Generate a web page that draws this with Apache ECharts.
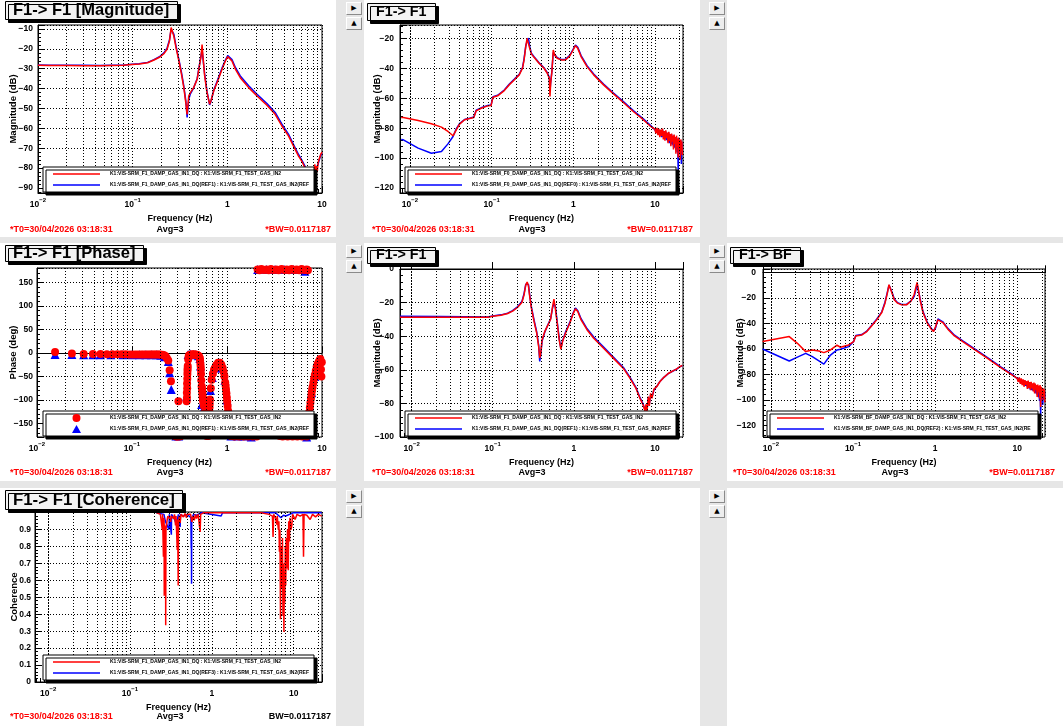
<!DOCTYPE html>
<html><head><meta charset="utf-8">
<script src="https://cdn.jsdelivr.net/npm/echarts@6/dist/echarts.min.js"></script>
<style>
html,body{margin:0;padding:0;}
body{width:1063px;height:726px;background:#e6e6e6;position:relative;overflow:hidden;}
.panel{position:absolute;background:#fff;}
.btn{position:absolute;width:16px;height:13px;background:#ededed;box-sizing:border-box;border:1px solid;border-color:#fff #8a8a8a #8a8a8a #fff;font:7px 'DejaVu Sans',sans-serif;line-height:11px;text-align:center;color:#000;}
</style></head>
<body>
<script>
// ---------------- DATA ----------------
// Panel 1: F1-> F1 [Magnitude]
const m1F = [0.01,0.013,0.02,0.03,0.045,0.06,0.08,0.091,0.117,0.144,
 0.168,0.194,0.214,0.231,0.245,0.255,0.263,0.272,0.287,0.308,
 0.328,0.347,0.364,0.376,0.391,0.407,0.441,0.48,0.507,0.528,
 0.541,0.554,0.576,0.61,0.65,0.67,0.718,0.791,0.879,0.954,
 1.01,1.06,1.12,1.22,1.37,1.68,2.06,2.62,3.2,3.77,
 4.42,4.99,5.63,6.1,6.6,7.0,7.5,7.9,8.1,8.25,
 8.4,8.55,8.7,8.9,9.1,9.4,9.7,10];
const m1Red = [-28.3,-28.4,-28.4,-28.5,-28.5,-28.4,-28.3,-28.0,-27.6,-27.0,
 -25.6,-24.1,-22.4,-20.2,-16.0,-9.3,-8.3,-13.5,-19.4,-26.1,
 -32.8,-39.5,-47.0,-53.0,-43.7,-42.0,-39.5,-35.3,-28.6,-23.6,
 -17.8,-24.4,-33.6,-42.0,-47.8,-46.2,-41.2,-36.2,-30.3,-26.1,
 -23.9,-23.6,-26.1,-30.3,-34.5,-39.5,-43.7,-48.4,-52.9,-58.8,
 -63.8,-68.8,-73.8,-76.4,-79.7,-84,-88,-85,-80,-86,
 -78,-84,-79,-82,-77,-75,-73,-72];
const m1Blue = [-28.1,-28.2,-28.3,-28.3,-28.4,-28.3,-28.2,-27.9,-27.5,-26.8,
 -25.4,-23.8,-22.0,-19.6,-15.4,-10.2,-9.5,-12.6,-18.6,-25.4,
 -32.0,-38.8,-46.0,-54.5,-45.5,-42.6,-39.6,-35.0,-28.2,-23.2,
 -20.5,-21.5,-32.6,-41.4,-48.2,-46.6,-40.8,-35.6,-29.6,-25.6,
 -23.4,-23.1,-25.4,-29.5,-33.6,-38.6,-42.8,-47.5,-52.0,-57.9,
 -62.9,-68.0,-73.0,-75.8,-79.0,-83,-87,-86,-81,-84,
 -80,-83,-80,-81,-78,-75.5,-73.5,-72.5];
const m1YTicks = [-90,-80,-70,-60,-50,-40,-30,-20,-10];

// Panel 2: F1-> F1 (F0 channel)
const m2F = [0.0078,0.0083,0.0126,0.0183,0.0243,0.0292,0.0337,0.0369,0.0405,0.0467,
 0.0537,0.0606,0.0647,0.0745,0.0897,0.0985,0.104,0.1186,0.143,0.164,
 0.189,0.218,0.239,0.25,0.262,0.272,0.283,0.293,0.307,0.331,
 0.381,0.438,0.481,0.509,0.519,0.529,0.548,0.569,0.591,0.637,
 0.712,0.803,0.907,0.996,1.064,1.136,1.247,1.475,1.78,2.35,
 3.11,4.11,5.44,7.21,8.68];
const m2Red = [-72.8,-72.9,-74.9,-77.1,-79.3,-82.2,-85.1,-81.1,-77.3,-74.4,
 -73.6,-72.9,-68.4,-66.7,-65.1,-64.9,-59.3,-58.4,-54.9,-51.1,
 -47.8,-44.4,-40,-34.4,-25.6,-20,-21.1,-26.7,-30.4,-32.7,
 -36.7,-40,-43.3,-46.7,-58.9,-50,-42.2,-27.8,-31.1,-33.3,
 -34.4,-34.4,-31.8,-27.8,-24.9,-26.7,-32.2,-38.9,-44.4,-51.1,
 -57.1,-62.9,-68.9,-74.4,-78.4];
const m2Blue = [-87.5,-87.8,-93.3,-96.8,-95.6,-90.5,-85.6,-80.5,-77,-74.2,
 -73.4,-72.6,-68,-66.4,-64.8,-64.5,-59,-58,-54.5,-50.7,
 -47.4,-44,-39.5,-33.5,-25,-22,-19.8,-25.5,-30,-32.3,
 -36.3,-39.6,-42.9,-46.2,-55,-49.5,-41.8,-29.5,-29.8,-33,
 -34.1,-34,-31.3,-27.3,-24.5,-26,-31.5,-38.3,-43.8,-50.5,
 -56.5,-62.3,-68.3,-73.8,-77.8];
// high-frequency noisy tail (shared frequencies)
const tailF = [10.0,10.3,10.6,10.9,11.2,11.5,11.8,12.1,12.4,12.7,
 13.0,13.3,13.6,13.9,14.2,14.5,14.8,15.1,15.4,15.7,
 16.0,16.3,16.6,16.9,17.2,17.5,17.8,18.1,18.4,18.7,
 19.0,19.3,19.6,19.9,20.2,20.5,20.8,21.1,21.4,21.7];
const m2RedTail = [-80.7,-83.5,-79.8,-84.6,-80.5,-86,-81,-85.2,-80.2,-87.5,
 -82,-88.4,-81.5,-86.6,-83,-90,-82.4,-88.5,-84,-92,
 -83.6,-89,-85,-94.2,-84.3,-90.5,-86,-97,-85,-92.6,
 -87,-99.5,-86.2,-93,-88,-101,-87.5,-95,-89,-98];
const m2BlueTail = [-81,-82.5,-80.5,-83.8,-81.2,-84.5,-81.8,-86,-81,-85.8,
 -82.6,-87,-82.2,-88,-83.5,-89,-83,-90,-84.5,-90.5,
 -84,-91,-85.5,-92,-85,-93,-86.5,-94,-86,-96,
 -87,-110,-87,-95,-88.5,-97,-88,-104,-89.5,-96];
const m2YTicks = [-120,-100,-80,-60,-40,-20];

// Panel 4: F1-> F1 (row 2)
const m4F = [0.0072,0.0233,0.0868,0.1,0.1265,0.153,0.176,0.202,0.229,0.244,
 0.256,0.266,0.276,0.286,0.30,0.324,0.349,0.369,0.38,0.391,
 0.406,0.438,0.481,0.518,0.548,0.569,0.591,0.625,0.661,0.693,
 0.727,0.79,0.893,0.981,1.048,1.12,1.23,1.46,1.76,2.33,
 3.09,4.09,4.94,5.85,6.55,7.19,7.55,7.76,7.98,8.28,
 8.53,8.85,9.19,9.72,10.5,11.5,12.9,14.6,16.7,18.4,
 20.2,21.8];
const m4Red = [-28.7,-28.7,-28.7,-28.1,-27.5,-26.5,-25.1,-22.9,-19.9,-15.3,
 -9.4,-7.8,-10,-16.3,-23.3,-31.3,-38.2,-46.2,-53,-50.2,
 -42.2,-37.3,-33.3,-29.9,-22.3,-17.9,-23.3,-32.3,-42.2,-47.8,
 -43.2,-38.2,-32.3,-26.7,-23.7,-25.3,-30.3,-36.3,-41.2,-47.2,
 -53.2,-59.2,-65.1,-71.1,-77.1,-81.1,-84.5,-80.5,-85,-76,
 -81.5,-74,-77,-71.5,-70.1,-67.1,-64.5,-62.2,-60.6,-59.6,
 -58.2,-57.4];
const m4Blue = [-28.1,-28.2,-28.6,-28.0,-27.3,-26.3,-24.8,-22.5,-19.4,-14.5,
 -9.0,-8.8,-9.2,-15.5,-22.5,-30.5,-37.5,-45.5,-55,-51,
 -43,-37.6,-33,-29.6,-23,-20.5,-21.8,-31.6,-41.4,-47.2,
 -42.8,-37.6,-31.8,-26.2,-23.2,-24.8,-29.6,-35.6,-40.5,-46.5,
 -52.5,-58.6,-64.5,-70.6,-76.6,-80.6,-84,-81.5,-84,-77,
 -80.5,-75,-76.5,-72,-70,-67,-64.5,-62.3,-60.7,-59.7,
 -58.3,-57.5];
const m4YTicks = [-100,-80,-60,-40,-20,0];

// Panel 5: F1-> BF
const m5F = [0.0079,0.0081,0.0167,0.021,0.0265,0.0319,0.0384,0.0441,0.0531,0.0638,
 0.0701,0.0884,0.1016,0.108,0.128,0.147,0.169,0.194,0.224,0.245,
 0.262,0.274,0.284,0.298,0.318,0.349,0.39,0.448,0.505,0.555,
 0.586,0.603,0.62,0.655,0.712,0.804,0.898,0.958,1.014,1.082,
 1.143,1.242,1.428,1.72,2.17,3.0,4.35,6.3,8.71];
const m5Red = [-54.2,-54.4,-50.4,-55.7,-62.2,-60.9,-61.7,-63,-60.9,-57.2,
 -58.8,-57,-54.4,-49.9,-49.1,-46.5,-42,-37.3,-31.5,-24.2,
 -16.3,-9.7,-10.5,-16.3,-21.5,-24.2,-25.5,-25.5,-22.8,-17.6,
 -11,-7.9,-12.3,-21.5,-31.5,-39.9,-44.6,-46.5,-42.5,-37.3,
 -36.8,-39.4,-44.6,-49.9,-54.4,-60.4,-67.5,-74.8,-80.6];
const m5Blue = [-60.2,-60.4,-69.6,-66.5,-63.6,-66.2,-69.5,-72,-64.9,-60.9,
 -60.4,-58.3,-54.2,-49.6,-48.8,-46.2,-41.6,-36.8,-31,-23.5,
 -15.5,-10,-9.8,-15.5,-21,-23.8,-25.2,-25.2,-22.5,-19,
 -13,-9.5,-10.5,-20.5,-30.8,-39.3,-44,-46,-43.5,-36.5,
 -36,-38.8,-44,-49.3,-53.8,-59.8,-66.9,-74.2,-80];
const m5RedTail = [-83.2,-86,-82.5,-87.5,-83.2,-88.6,-84,-89.8,-84.6,-88.2,
 -85.5,-91.5,-85,-90.6,-86.2,-92.4,-85.9,-91.1,-87,-93.5,
 -86.5,-95.1,-87.2,-92,-88.5,-97.7,-88,-94,-89,-99,
 -88.5,-105.6,-89.8,-96.4,-90.5,-100,-91,-97,-92,-102];
const m5BlueTail = [-83.5,-85,-83,-86.5,-84,-87.5,-84.5,-88.5,-85,-89,
 -85.8,-90,-86,-91,-86.5,-92,-87,-92.5,-87.5,-93,
 -88,-94,-88.5,-95,-89,-96,-89.5,-98,-90,-101,
 -90.5,-113,-91,-99,-91.5,-104,-92,-100,-93,-98];
const m5YTicks = [-120,-100,-80,-60,-40,-20,0];

// Phase panel (scatter)
const phRedF = [0.0155,0.0233,0.031,0.0388,0.0466,0.0544,0.0622,0.07,0.0778,0.0856,
 0.0934,0.101,0.109,0.117,0.125,0.132,0.14,0.148,0.156,0.163,
 0.171,0.179,0.187,0.195,0.202,0.21,0.218,0.226,0.233,0.241,
 0.249,0.257,0.284,0.292,0.3,0.308,0.316,0.324,0.332,0.308,
 0.376,0.378,0.38,0.383,0.386,0.39,0.395,0.40,0.41,0.42,
 0.43,0.44,0.45,0.46,0.47,0.48,0.49,0.50,0.51,0.518,
 0.531,0.541,0.548,0.554,0.563,0.572,0.586,0.6,0.611,0.636,
 0.648,0.662,0.675,0.689,0.71,0.73,0.746,0.77,0.806,0.84,
 0.872,0.9,0.92,0.94,0.958,0.976,0.996,1.016,1.036,1.056,
 1.076,1.098,1.14,1.2,1.27,1.34,1.42,1.5,1.58,1.67,
 1.77,1.87,1.97,2.05,2.1,2.2,2.3,2.45,2.6,2.75,
 2.9,3.1,3.3,3.5,3.75,4.0,4.25,4.5,4.8,5.1,
 5.4,5.75,6.1,6.5,6.9,7.1,3.6,3.85,4.1,4.35,
 4.6,4.9,5.2,5.5,5.85,6.2,6.55,6.9,7.05,7.15,
 7.25,7.35,7.45,7.55,7.65,7.75,7.85,7.95,8.1,8.25,
 8.4,8.6,8.8,9.0,9.2,9.4,9.6,9.75,9.85,9.95,
 0.639,0.642,0.645,0.652,0.655,0.658,0.967,0.986,1.006,1.026,
 1.046,1.066,0.533,0.536,0.544,0.551,0.557,0.56,0.567,0.579,
 0.521,0.525,0.528,0.593,0.605,0.379,0.381,0.382,0.384,0.385];
const phRed = [2,-1,-2,-2,-2,-2.5,-2.5,-2.5,-2.5,-2.5,
 -3,-3,-3,-3,-3,-3,-3,-3,-3,-3,
 -3,-3.5,-3.5,-3.5,-4,-4,-5,-7,-11,-16,
 -37,-60,-177,-178,-178,-177,-178,-177,-176,-103,
 -103,-85,-65,-45,-28,-14,-7,-5,-4,-3,
 -3,-3,-3,-3,-4,-4,-5,-6,-8,-11,
 -35,-71,-80,-92,-103,-113,-142,-165,-177,-177,
 -135,-99,-75,-57,-44,-36,-32,-26,-21,-21,
 -25,-32,-40,-50,-63,-78,-95,-113,-134,-156,
 -168,-177,-177,-178,-177,-178,-177,-178,-177,-178,
 -177,-178,-177,-178,178,176,179,177,178,176,
 179,177,178,176,179,177,178,176,179,177,
 178,176,179,177,178,176,-177,-178,-177,-178,
 -177,-178,-177,-178,-177,-178,-177,-178,-165,-148,
 -137,-126,-116,-106,-97,-88,-80,-73,-64,-55,
 -47,-38,-29,-24,-20,-16,-13,-35,-50,-20,
 -165,-153,-143,-125,-116,-108,-70,-86,-104,-123,
 -145,-162,-45,-58,-75,-86,-97,-100,-108,-128,
 -16,-23,-29,-150,-172,-95,-75,-55,-38,-33];
const phBlueF = [0.0155,0.0233,0.031,0.0388,0.0466,0.06,0.08,0.1,0.12,0.14,
 0.16,0.18,0.2,0.22,0.241,0.249,0.259,0.29,0.31,0.376,
 0.39,0.41,0.44,0.47,0.5,0.518,0.525,0.541,0.563,0.6,
 0.645,0.67,0.7,0.75,0.8,0.85,0.9,0.95,1.0,1.05,
 1.1,1.3,1.5,1.8,2.1,2.6,3.2,4,5,6,
 6.6,6.9,7.3,7.8,8.4,9,9.6];
const phBlue = [-3,-3,-4,-4,-4,-4,-4,-4,-4,-4,
 -4,-4,-5,-8,-18,-42,-78,-177,-177,-92,
 -3,-2,-3,-4,-6,-12,-28,-110,-120,-170,
 -140,-80,-52,-32,-22,-22,-32,-58,-100,-145,
 -177,-177,-177,-179,178,178,178,178,178,178,
 174,-179,-120,-85,-50,-25,-15];
const phYTicks = [-150,-100,-50,0,50,100,150];

// Coherence panel
const cohF = [0.21,0.235,0.245,0.248,0.25,0.254,0.256,0.258,0.261,0.262,
 0.264,0.268,0.272,0.273,0.275,0.28,0.285,0.29,0.3,0.305,
 0.31,0.314,0.318,0.33,0.34,0.35,0.36,0.365,0.372,0.378,
 0.382,0.388,0.392,0.4,0.41,0.42,0.45,0.47,0.49,0.5,
 0.55,0.57,0.59,0.61,0.63,0.65,0.68,0.71,0.72,0.73,
 0.8,1.0,1.5,2.5,4.0,5.0,5.5,5.6,5.7,6.0,
 6.2,6.3,6.5,6.6,6.7,6.8,6.9,7.0,7.1,7.2,
 7.3,7.4,7.5,7.6,7.7,7.8,7.9,8.0,8.1,8.2,
 8.3,8.4,8.6,8.7,8.9,9.0,9.3,9.5,9.7,10.4,
 11,12,13.0,13.2,13.4,14.5,15.9,17,18.5,20,
 22];
const cohRed = [1.0,0.99,0.995,0.9,0.99,0.98,0.74,0.97,0.95,0.51,
 0.93,0.9,0.92,0.335,0.9,0.905,0.96,0.98,0.975,0.99,
 0.96,0.945,0.98,0.99,0.965,0.99,0.925,0.98,0.97,0.78,
 0.96,0.57,0.95,0.98,0.94,0.99,0.975,0.995,0.97,0.99,
 0.99,0.945,0.98,0.955,0.99,0.965,0.99,0.99,0.886,0.99,
 1.0,1.0,1.0,1.0,1.0,0.99,0.98,0.856,0.99,0.97,
 0.93,0.98,0.9,0.95,0.77,0.9,0.37,0.8,0.6,0.55,
 0.85,0.39,0.7,0.295,0.65,0.47,0.8,0.57,0.85,0.7,
 0.67,0.9,0.66,0.95,0.83,0.97,0.9,0.925,0.99,0.96,
 0.99,0.98,0.99,0.74,0.99,0.985,0.96,0.99,0.975,0.99,
 0.98];
const cohBlueF = [0.21,0.26,0.27,0.3,0.302,0.32,0.322,0.35,0.37,0.39,
 0.41,0.413,0.45,0.5,0.555,0.56,0.562,0.565,0.568,0.6,
 0.65,0.68,0.75,1.3,1.35,6,7,7.5,8,10,22];
const cohBlue = [1,0.99,0.95,0.9,0.99,0.87,0.99,0.96,0.93,0.99,
 0.915,0.99,0.98,0.99,0.97,0.79,0.95,0.58,0.97,0.99,
 0.985,0.975,1,0.98,1,1,0.97,0.985,0.98,1,1];
const cohYTicks = [0,0.1,0.2,0.3,0.4,0.5,0.6,0.7,0.8,0.9];

// Texts
const NAME_F1 = 'K1:VIS-SRM_F1_DAMP_GAS_IN1_DQ : K1:VIS-SRM_F1_TEST_GAS_IN2';
const NAME_F1_REF1 = 'K1:VIS-SRM_F1_DAMP_GAS_IN1_DQ(REF1) : K1:VIS-SRM_F1_TEST_GAS_IN2(REF1)';
const NAME_F0 = 'K1:VIS-SRM_F0_DAMP_GAS_IN1_DQ : K1:VIS-SRM_F1_TEST_GAS_IN2';
const NAME_F0_REF0 = 'K1:VIS-SRM_F0_DAMP_GAS_IN1_DQ(REF0) : K1:VIS-SRM_F1_TEST_GAS_IN2(REF0)';
const NAME_BF = 'K1:VIS-SRM_BF_DAMP_GAS_IN1_DQ : K1:VIS-SRM_F1_TEST_GAS_IN2';
const NAME_BF_REF2 = 'K1:VIS-SRM_BF_DAMP_GAS_IN1_DQ(REF2) : K1:VIS-SRM_F1_TEST_GAS_IN2(REF2)';
const NAME_F1_REF3 = 'K1:VIS-SRM_F1_DAMP_GAS_IN1_DQ(REF3) : K1:VIS-SRM_F1_TEST_GAS_IN2(REF3)';
const T0_TEXT = '*T0=30/04/2026 03:18:31';
const AVG_TEXT = 'Avg=3';
const BW_TEXT = '*BW=0.0117187';
const BW_TEXT_PLAIN = 'BW=0.0117187';

// ---------------- RENDERING ----------------
const FONT = "'Liberation Sans', Arial, Helvetica, sans-serif";
const RED = '#ff0000', BLUE = '#0000ff';
const LINE_ICON = 'path://M0,0L100,0L100,3L0,3Z';
const CIRCLE_ICON = 'path://M0,0L0,0ZM47,8L47,8ZM19.5,4A4,4,0,1,1,27.5,4A4,4,0,1,1,19.5,4Z';
const TRI_ICON = 'path://M0,0L0,0ZM47,8L47,8ZM23.5,0L28,8L19,8Z';

function zip(f, v) { return f.map((x, i) => [x, v[i]]); }

function lineSeries(name, f, v, color) {
  return {type:'line', name, data: zip(f, v), symbol:'none', showSymbol:false,
    lineStyle:{color, width:1.5}, itemStyle:{color}, silent:true, animation:false, z:3};
}
function scatterSeries(name, f, v, color, symbol, size) {
  return {type:'scatter', name, data: zip(f, v), symbol, symbolSize:size,
    itemStyle:{color, opacity:1}, silent:true, animation:false, z:3};
}
function decadeMultiples(xmin, xmax) {
  const out = [];
  for (let e = -3; e <= 2; e++) for (let m = 2; m <= 9; m++) {
    const v = m * Math.pow(10, e);
    if (v > xmin && v < xmax) out.push(v);
  }
  return out;
}
function minorGrid(xmin, xmax) {
  return {type:'line', name:'__grid', data:[], silent:true, z:1,
    markLine:{silent:true, animation:false, symbol:['none','none'], label:{show:false},
      lineStyle:{color:'#000', type:[1,2], width:1}, emphasis:{disabled:true},
      data: decadeMultiples(xmin, xmax).map(v => ({xAxis:v}))}};
}
function logFmt(v) {
  const l = Math.log10(v), e = Math.round(l);
  if (Math.abs(l - e) > 1e-6) return '';
  if (e < 0) return '{b|10}{s|\u2212' + (-e) + '}';
  if (e === 0) return '{b|1}';
  return '{b|' + Math.pow(10, e) + '}';
}
function yFmt(v) {
  const r = Math.round(v * 1000) / 1000;
  return r < 0 ? '\u2212' + (-r) : String(r);
}

function build(el, c) {
  const chart = echarts.init(el, null, {renderer:'canvas', width:c.w, height:c.h});
  const footFont = 'bold 9px ' + FONT;
  const baseGraphic = [
    {type:'text', x:c.fx1, y:c.fy, silent:true, style:{text:T0_TEXT, align:'left', verticalAlign:'middle', fill:RED, font:footFont}},
    {type:'text', x:c.fx2, y:c.fy, silent:true, style:{text:AVG_TEXT, align:'center', verticalAlign:'middle', fill:'#000', font:footFont}},
    {type:'text', x:c.fx3, y:c.fy, silent:true, style:{text:c.bw, align:'right', verticalAlign:'middle', fill:c.bwColor, font:footFont}}
  ];
  const opt = {
    animation:false,
    backgroundColor:'#ffffff',
    textStyle:{fontFamily:FONT},
    title:{text:c.title, left:c.tl, top:c.tt, padding:[0,c.tpad,0,c.tpad],
      backgroundColor:'#f3f3f3', borderColor:'#000', borderWidth:1,
      shadowColor:'#000', shadowOffsetX:3, shadowOffsetY:3, shadowBlur:0,
      textStyle:{fontFamily:FONT, fontWeight:'bold', fontSize:c.tfs, color:'#000', lineHeight:c.tlh}},
    legend:{orient:'vertical', left:c.ll, top:c.lt, selectedMode:false, z:10,
      data:c.legend, itemWidth:47, itemHeight:8, itemGap:3, padding:[3,4,3,10],
      symbolKeepAspect:true,
      backgroundColor:'#ffffff', borderColor:'#000', borderWidth:1,
      shadowColor:'#000', shadowOffsetX:3, shadowOffsetY:3, shadowBlur:0,
      textStyle:{fontSize:5, fontWeight:'bold', color:'#000', fontFamily:FONT, lineHeight:8,
        width:200, overflow:'truncate', ellipsis:'', padding:[0,0,0,5]}},
    grid:{left:c.gl, top:c.gt, width:c.gw, height:c.gh, show:true,
      borderColor:'#000', borderWidth:1, backgroundColor:'rgba(0,0,0,0)'},
    xAxis:{type:'log', logBase:10, min:c.xmin, max:c.xmax,
      name:'Frequency (Hz)', nameLocation:'middle', nameGap:c.xng,
      nameTextStyle:{fontSize:9, fontWeight:'bold', color:'#000', fontFamily:FONT},
      axisLine:{show:true, lineStyle:{color:'#000', width:1}},
      axisTick:{show:true, inside:true, length:7, lineStyle:{color:'#000'}},
      minorTick:{show:false},
      axisLabel:{margin:4, formatter:logFmt, showMinLabel:true, showMaxLabel:true, hideOverlap:false,
        rich:{b:{fontSize:8.5, fontWeight:'bold', color:'#000', fontFamily:FONT, lineHeight:12, verticalAlign:'bottom'},
              s:{fontSize:6, fontWeight:'bold', color:'#000', fontFamily:FONT, lineHeight:7, verticalAlign:'top'}}},
      splitLine:{show:true, lineStyle:{color:'#000', type:[1,2], width:1}}},
    yAxis:{type:'value', min:c.ymin, max:c.ymax, interval:c.yint, splitNumber:c.ysplit,
      name:c.yname, nameLocation:'middle', nameGap:c.yng,
      nameTextStyle:{fontSize:9.5, fontWeight:'bold', color:'#000', fontFamily:FONT},
      axisLine:{show:true, lineStyle:{color:'#000', width:1}},
      axisTick:{show:true, inside:true, length:7, lineStyle:{color:'#000'}},
      minorTick:{show:true, splitNumber:5, length:3, lineStyle:{color:'#000'}},
      axisLabel:{show:false},
      splitLine:{show:true, lineStyle:{color:'#000', type:[1,2], width:1}}},
    series:[minorGrid(c.xmin, c.xmax)].concat(c.series),
    graphic: baseGraphic
  };
  chart.setOption(opt);

  // y tick labels and minor x ticks placed through the chart's own axis scales
  const extra = [];
  const lblFont = 'bold 8.5px ' + FONT;
  c.yticks.forEach(v => {
    const y = chart.convertToPixel({yAxisIndex:0}, v);
    extra.push({type:'text', x:c.gl - 4, y, silent:true,
      style:{text:yFmt(v), align:'right', verticalAlign:'middle', fill:'#000', font:lblFont}});
  });
  const yb = c.gt + c.gh;
  decadeMultiples(c.xmin, c.xmax).forEach(v => {
    const x = Math.round(chart.convertToPixel({xAxisIndex:0}, v)) + 0.5;
    extra.push({type:'line', silent:true, shape:{x1:x, y1:yb, x2:x, y2:yb - 4},
      style:{stroke:'#000', lineWidth:1}});
  });
  chart.setOption({graphic: baseGraphic.concat(extra)});
}

function div(left, top, w, h) {
  const d = document.createElement('div');
  d.className = 'panel';
  d.style.cssText = `left:${left}px;top:${top}px;width:${w}px;height:${h}px;`;
  document.body.appendChild(d);
  return d;
}
function btn(left, top, glyph) {
  const b = document.createElement('div');
  b.className = 'btn';
  b.style.left = left + 'px'; b.style.top = top + 'px';
  b.textContent = glyph;
  document.body.appendChild(b);
}

const COLS = [0, 364, 727];
const ROWS = [0, 243, 488];
const HS = [237, 238, 238];
const W = 336;

// empty panels
div(COLS[2], ROWS[0], W, HS[0]);
div(COLS[1], ROWS[2], W, HS[2]);
div(COLS[2], ROWS[2], W, HS[2]);
// buttons
[346, 709].forEach(x => ROWS.forEach(y => { btn(x, y + 2, '\u25B6'); btn(x, y + 17, '\u25B2'); }));

const lineLegend = (a, b) => [{name:a, icon:LINE_ICON}, {name:b, icon:LINE_ICON}];

// Panel 1
build(div(COLS[0], ROWS[0], W, HS[0]), {w:W, h:HS[0],
  title:'F1-> F1 [Magnitude]', tl:5, tt:1, tpad:8, tfs:16.5, tlh:19,
  ll:43, lt:167, legend:lineLegend(NAME_F1, NAME_F1_REF1),
  gl:37, gt:25, gw:285, gh:168, xmin:0.01, xmax:10, xng:17,
  ymin:-92.5, ymax:-8, ysplit:8, yticks:m1YTicks, yname:'Magnitude (dB)', yng:20,
  fx1:10, fx2:170, fx3:331, fy:230, bw:BW_TEXT, bwColor:RED,
  series:[lineSeries(NAME_F1_REF1, m1F, m1Blue, BLUE), lineSeries(NAME_F1, m1F, m1Red, RED)]});

// Panel 2
build(div(COLS[1], ROWS[0], W, HS[0]), {w:W, h:HS[0],
  title:'F1-> F1', tl:3, tt:3, tpad:9, tfs:14.3, tlh:18,
  ll:41, lt:167, legend:lineLegend(NAME_F0, NAME_F0_REF0),
  gl:34, gt:25, gw:285, gh:168, xmin:0.00755, xmax:22.1, xng:17,
  ymin:-123.3, ymax:-11.1, ysplit:5, yticks:m2YTicks, yname:'Magnitude (dB)', yng:18,
  fx1:8, fx2:168, fx3:329, fy:230, bw:BW_TEXT, bwColor:RED,
  series:[lineSeries(NAME_F0_REF0, m2F.concat(tailF), m2Blue.concat(m2BlueTail), BLUE),
          lineSeries(NAME_F0, m2F.concat(tailF), m2Red.concat(m2RedTail), RED)]});

// Phase panel
build(div(COLS[0], ROWS[1], W, HS[1]), {w:W, h:HS[1],
  title:'F1-> F1 [Phase]', tl:5, tt:2, tpad:8, tfs:16.5, tlh:17,
  ll:43, lt:168, legend:[{name:NAME_F1, icon:CIRCLE_ICON}, {name:NAME_F1_REF1, icon:TRI_ICON}],
  gl:37, gt:25, gw:285, gh:169, xmin:0.01, xmax:10, xng:17,
  ymin:-179, ymax:181, ysplit:7, yticks:phYTicks, yname:'Phase (deg)', yng:19,
  fx1:10, fx2:170, fx3:331, fy:230, bw:BW_TEXT, bwColor:RED,
  series:[scatterSeries(NAME_F1_REF1, phBlueF, phBlue, BLUE, 'triangle', 9),
          scatterSeries(NAME_F1, phRedF, phRed, RED, 'circle', 8)]});

// Panel 4
build(div(COLS[1], ROWS[1], W, HS[1]), {w:W, h:HS[1],
  title:'F1-> F1', tl:3, tt:4, tpad:9, tfs:14.3, tlh:17,
  ll:41, lt:168, legend:lineLegend(NAME_F1, NAME_F1_REF1),
  gl:34, gt:26, gw:285, gh:168, xmin:0.0072, xmax:22.2, xng:17,
  ymin:-100, ymax:0, yint:20, yticks:m4YTicks, yname:'Magnitude (dB)', yng:18,
  fx1:8, fx2:168, fx3:329, fy:230, bw:BW_TEXT, bwColor:RED,
  series:[lineSeries(NAME_F1_REF1, m4F, m4Blue, BLUE), lineSeries(NAME_F1, m4F, m4Red, RED)]});

// Panel 5
build(div(COLS[2], ROWS[1], W, HS[1]), {w:W, h:HS[1],
  title:'F1-> BF', tl:3, tt:4, tpad:9, tfs:14.3, tlh:17,
  ll:40, lt:168, legend:lineLegend(NAME_BF, NAME_BF_REF2),
  gl:33, gt:26, gw:285, gh:168, xmin:0.008, xmax:21.8, xng:17,
  ymin:-129.2, ymax:2.6, ysplit:6, yticks:m5YTicks, yname:'Magnitude (dB)', yng:18,
  fx1:6, fx2:168, fx3:328, fy:230, bw:BW_TEXT, bwColor:RED,
  series:[lineSeries(NAME_BF_REF2, m5F.concat(tailF), m5Blue.concat(m5BlueTail), BLUE),
          lineSeries(NAME_BF, m5F.concat(tailF), m5Red.concat(m5RedTail), RED)]});

// Coherence
build(div(COLS[0], ROWS[2], W, HS[2]), {w:W, h:HS[2],
  title:'F1-> F1 [Coherence]', tl:5, tt:2, tpad:8, tfs:16.8, tlh:20,
  ll:43, lt:167, legend:lineLegend(NAME_F1, NAME_F1_REF3),
  gl:35, gt:24, gw:287, gh:170, xmin:0.0069, xmax:22.2, xng:17,
  ymin:0, ymax:1.004, yint:0.1, yticks:cohYTicks, yname:'Coherence', yng:16,
  fx1:10, fx2:170, fx3:331, fy:229, bw:BW_TEXT_PLAIN, bwColor:'#000',
  series:[lineSeries(NAME_F1_REF3, cohBlueF, cohBlue, BLUE), lineSeries(NAME_F1, cohF, cohRed, RED)]});
</script>
</body></html>
